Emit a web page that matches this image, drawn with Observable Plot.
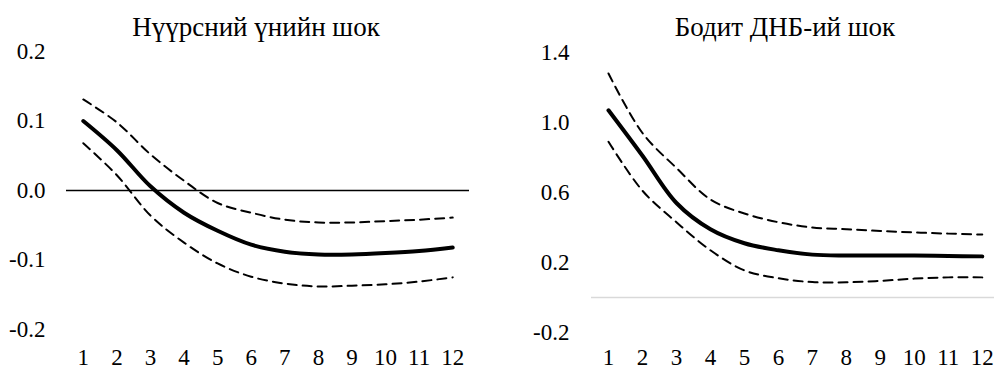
<!DOCTYPE html>
<html>
<head>
<meta charset="utf-8">
<script src="https://cdn.jsdelivr.net/npm/d3@7"></script>
<script src="https://cdn.jsdelivr.net/npm/@observablehq/plot@0.6"></script>
<style>
  html, body { margin: 0; padding: 0; background: #fff; overflow: hidden; }
  #wrap { position: relative; width: 994px; height: 370px; overflow: hidden; }
  .panel { position: absolute; top: 0; }
  .title { position: absolute; font-family: "Liberation Serif", "Times New Roman", serif; font-size: 27px; line-height: 27px; color: #000; text-align: center; white-space: nowrap; }
</style>
</head>
<body>
<div id="wrap">
  <div class="title" id="t1" style="left:56px; top:14px; width:400px;"></div>
  <div class="title" id="t2" style="left:585px; top:14px; width:400px;"></div>
  <div class="panel" id="p1" style="left:0px;"></div>
  <div class="panel" id="p2" style="left:494px;"></div>
</div>
<script>
// ---- data ----
const periods = [1, 2, 3, 4, 5, 6, 7, 8, 9, 10, 11, 12];

const titleCoal = "Нүүрсний үнийн шок";
const titleGdp = "Бодит ДНБ-ий шок";

const coalMid  = [0.100, 0.058, 0.006, -0.032, -0.058, -0.078, -0.088, -0.092, -0.092, -0.090, -0.087, -0.082];
const coalHigh = [0.131, 0.098, 0.052,  0.014, -0.018, -0.032, -0.042, -0.046, -0.046, -0.044, -0.042, -0.039];
const coalLow  = [0.068, 0.022, -0.036, -0.075, -0.105, -0.124, -0.134, -0.138, -0.137, -0.135, -0.131, -0.125];

const gdpMid  = [1.07, 0.81, 0.54, 0.39, 0.31, 0.27, 0.245, 0.24, 0.24, 0.24, 0.237, 0.235];
const gdpHigh = [1.28, 0.94, 0.74, 0.56, 0.48, 0.43, 0.40, 0.39, 0.38, 0.372, 0.365, 0.36];
const gdpLow  = [0.89, 0.61, 0.43, 0.27, 0.155, 0.11, 0.088, 0.087, 0.095, 0.108, 0.115, 0.115];

const coalYTicks = [-0.2, -0.1, 0, 0.1, 0.2];
const gdpYTicks = [-0.2, 0.2, 0.6, 1.0, 1.4];

// ---- build ----
const toRows = (vals) => periods.map((p, i) => ({x: p, v: vals[i]}));
const fmt = d => (+d).toFixed(1);
const FONT = "'Liberation Serif', 'Times New Roman', serif";

document.getElementById("t1").textContent = titleCoal;
document.getElementById("t2").textContent = titleGdp;

const lineMarks = (mid, hi, lo) => [
  Plot.line(toRows(hi), {x: "x", y: "v", stroke: "#000", strokeWidth: 2, strokeDasharray: "9,6", curve: "catmull-rom"}),
  Plot.line(toRows(lo), {x: "x", y: "v", stroke: "#000", strokeWidth: 2, strokeDasharray: "9,6", curve: "catmull-rom"}),
  Plot.line(toRows(mid), {x: "x", y: "v", stroke: "#000", strokeWidth: 4, curve: "catmull-rom", strokeLinecap: "round"})
];

const axes = (yTicks, xPad, yPad) => [
  Plot.axisX({ticks: periods, tickFormat: d => String(d), tickSize: 0, tickPadding: xPad, label: null,
              fontSize: 23, fontFamily: FONT, fill: "#000"}),
  Plot.axisY({ticks: yTicks, tickFormat: fmt, tickSize: 0, tickPadding: yPad, label: null,
              fontSize: 23, fontFamily: FONT, fill: "#000"})
];

const p1 = Plot.plot({
  width: 494, height: 370,
  marginLeft: 66, marginRight: 25, marginTop: 51, marginBottom: 41,
  style: {fontFamily: FONT, fontSize: "23px", color: "#000"},
  x: {domain: [0.5, 12.5]},
  y: {domain: [-0.2, 0.2]},
  marks: [
    ...axes(coalYTicks, 19, 21),
    Plot.ruleY([0], {stroke: "#000", strokeWidth: 1.5}),
    ...lineMarks(coalMid, coalHigh, coalLow)
  ]
});
document.getElementById("p1").appendChild(p1);

const p2 = Plot.plot({
  width: 500, height: 370,
  marginLeft: 97, marginRight: 0, marginTop: 52, marginBottom: 38,
  style: {fontFamily: FONT, fontSize: "23px", color: "#000"},
  x: {domain: [0.5, 12.36]},
  y: {domain: [-0.2, 1.4]},
  marks: [
    ...axes(gdpYTicks, 16, 22),
    Plot.ruleY([0], {stroke: "#d9d9d9", strokeWidth: 1.5}),
    ...lineMarks(gdpMid, gdpHigh, gdpLow)
  ]
});
document.getElementById("p2").appendChild(p2);
</script>
</body>
</html>
